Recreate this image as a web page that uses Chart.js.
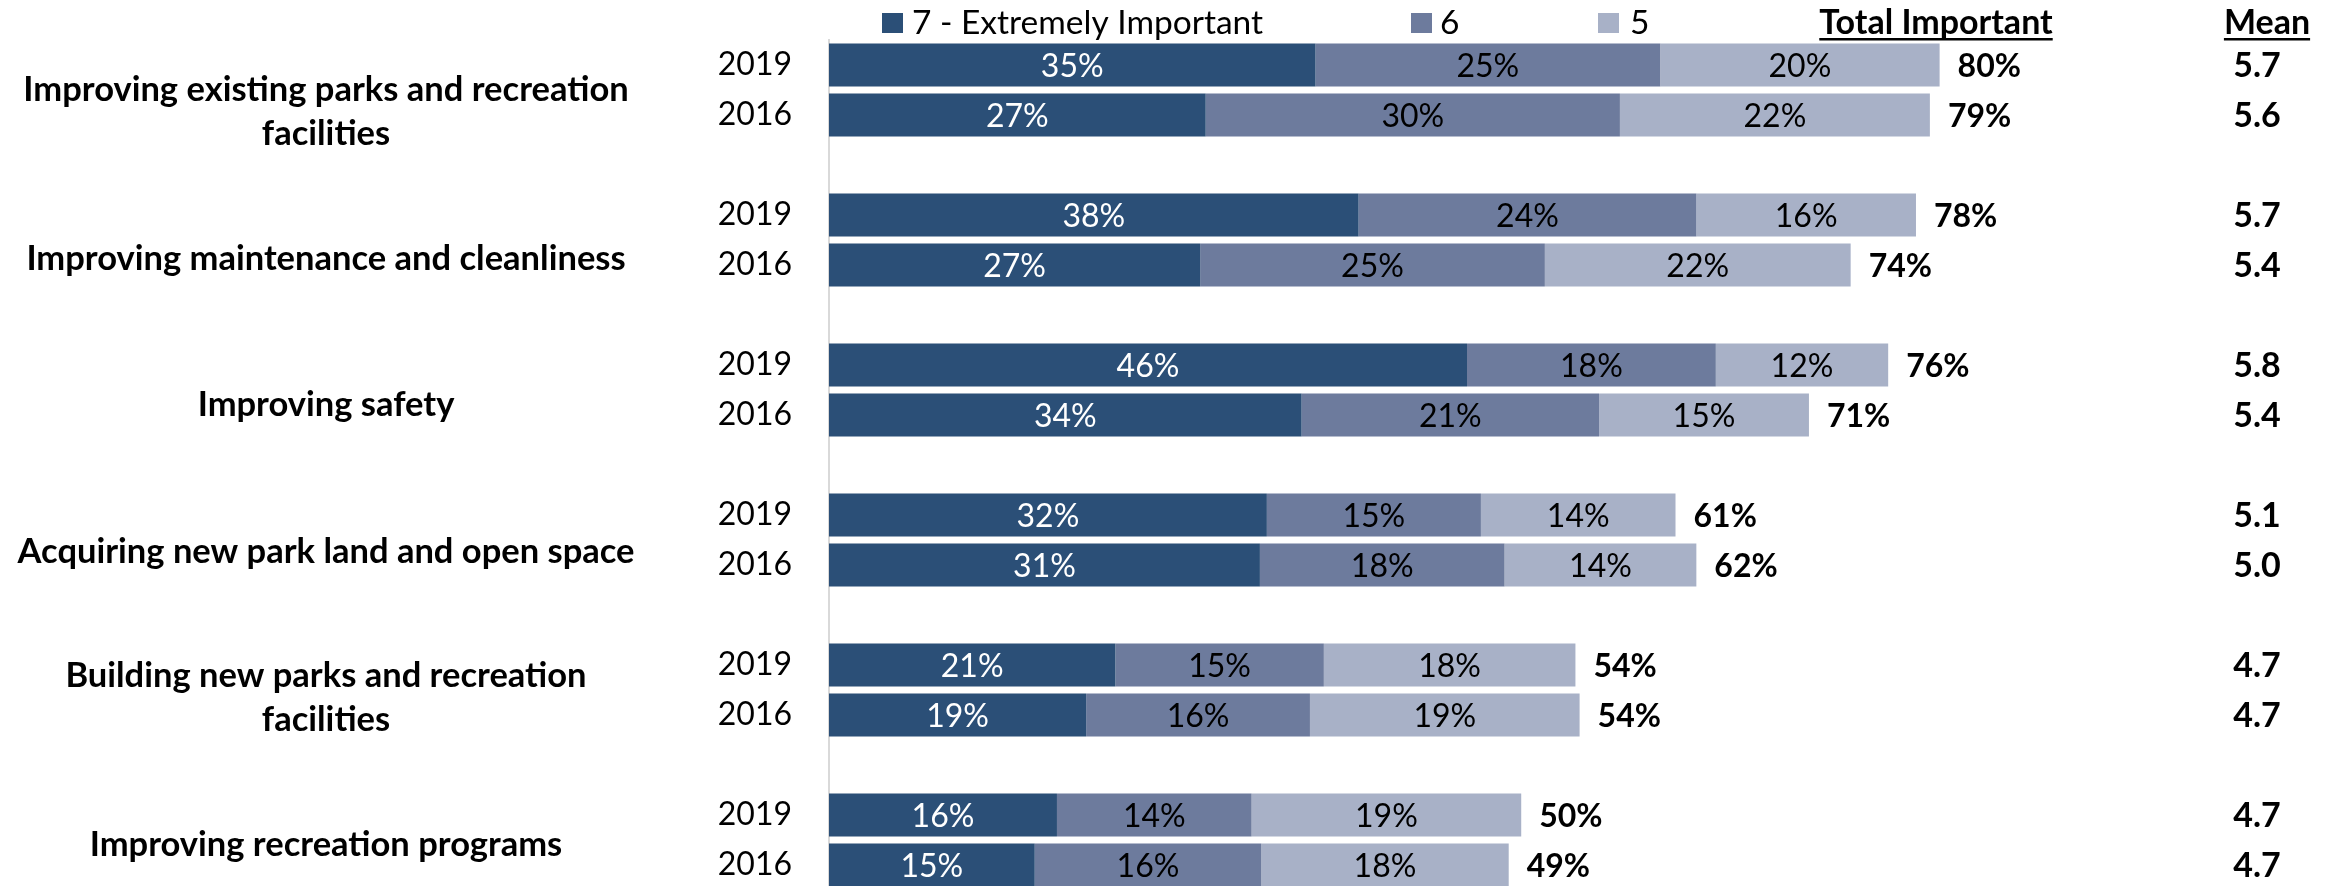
<!DOCTYPE html>
<html>
<head>
<meta charset="utf-8">
<script src="https://cdn.jsdelivr.net/npm/chart.js@4"></script>
<style>
  html, body { margin: 0; padding: 0; background: #ffffff; overflow: hidden; }
  #wrap { width: 2341px; height: 900px; position: relative; }
</style>
</head>
<body>
<div id="wrap"><canvas id="c"></canvas></div>
<script>
// ---- data ----
const groups = [
  ['Improving existing parks and recreation', 'facilities'],
  ['Improving maintenance and cleanliness'],
  ['Improving safety'],
  ['Acquiring new park land and open space'],
  ['Building new parks and recreation', 'facilities'],
  ['Improving recreation programs']
];
const years = ['2019', '2016'];
const seriesNames = ['7 - Extremely Important', '6', '5'];
const extremely2019 = [35.0, 38.1, 45.9, 31.5, 20.6, 16.4];
const extremely2016 = [27.1, 26.7, 34.0, 31.0, 18.5, 14.8];
const six2019 = [24.8, 24.3, 17.9, 15.4, 15.0, 14.0];
const six2016 = [29.8, 24.8, 21.4, 17.6, 16.1, 16.3];
const five2019 = [20.1, 15.8, 12.4, 14.0, 18.1, 19.4];
const five2016 = [22.3, 22.0, 15.1, 13.8, 19.4, 17.8];
const total2019 = [80, 78, 76, 61, 54, 50];
const total2016 = [79, 74, 71, 62, 54, 49];
const mean2019 = ['5.7', '5.7', '5.8', '5.1', '4.7', '4.7'];
const mean2016 = ['5.6', '5.4', '5.4', '5.0', '4.7', '4.7'];

// ---- styles ----
const colors = ['#2B4F77', '#6D7B9D', '#A8B1C7'];
const FONT = 'Lato, "Open Sans", sans-serif';

// build slot layout: 2019, 2016, (blank) per group
function expand(a, b) {
  const out = [];
  a.forEach((v, i) => {
    out.push(a[i], b[i]);
    if (i < a.length - 1) out.push(null);
  });
  return out;
}
const slotLabels = expand(groups.map(() => years[0]), groups.map(() => years[1])).map(v => v === null ? '' : v);
const totals = expand(total2019, total2016);
const means = expand(mean2019, mean2016);

const overlay = {
  id: 'overlay',
  afterDatasetsDraw(chart) {
    const ctx = chart.ctx;
    const ys = chart.scales.y;
    const area = chart.chartArea;
    ctx.save();
    // in-bar labels
    chart.data.datasets.forEach((ds, di) => {
      const meta = chart.getDatasetMeta(di);
      meta.data.forEach((el, j) => {
        const v = ds.data[j];
        if (v === null || v === undefined) return;
        const p = el.getProps(['x', 'y', 'base'], true);
        ctx.font = '32px ' + FONT;
        ctx.textAlign = 'center';
        ctx.textBaseline = 'alphabetic';
        ctx.fillStyle = di === 0 ? '#ffffff' : '#000000';
        ctx.fillText(Math.round(v) + '%', (p.x + p.base) / 2, p.y + 11.5);
      });
    });
    // totals and means
    const lastMeta = chart.getDatasetMeta(chart.data.datasets.length - 1);
    lastMeta.data.forEach((el, j) => {
      if (totals[j] === null) return;
      const p = el.getProps(['x', 'y'], true);
      ctx.font = 'bold 32px ' + FONT;
      ctx.fillStyle = '#000000';
      ctx.textAlign = 'left';
      ctx.fillText(totals[j] + '%', p.x + 18, p.y + 11.5);
      ctx.textAlign = 'center';
      ctx.font = 'bold 34px ' + FONT;
      ctx.fillText(means[j], area.right + 38, p.y + 12);
    });
    // group labels
    ctx.font = 'bold 34.5px ' + FONT;
    ctx.textAlign = 'center';
    ctx.fillStyle = '#000000';
    groups.forEach((lines, i) => {
      const yc = (ys.getPixelForValue(3 * i) + ys.getPixelForValue(3 * i + 1)) / 2;
      const center = yc + 22 - 3.4 * i;
      const lh = 44;
      lines.forEach((t, k) => {
        const off = (k - (lines.length - 1) / 2) * lh;
        ctx.fillText(t, 326, center + off + 11);
      });
    });
    // legend
    const leg = [
      { sx: 882, tx: 912 },
      { sx: 1411, tx: 1440 },
      { sx: 1598, tx: 1630 }
    ];
    ctx.font = '33.5px ' + FONT;
    ctx.textAlign = 'left';
    leg.forEach((l, i) => {
      ctx.fillStyle = colors[i];
      ctx.fillRect(l.sx, 13, 21, 20);
      ctx.fillStyle = '#000000';
      ctx.fillText(seriesNames[i], l.tx, 34);
    });
    // column headers
    ctx.font = 'bold 34px ' + FONT;
    ctx.textAlign = 'center';
    const heads = [
      { t: 'Total Important', cx: 1936 },
      { t: 'Mean', cx: 2267 }
    ];
    heads.forEach(h => {
      ctx.fillText(h.t, h.cx, 34);
      const w = ctx.measureText(h.t).width;
      ctx.fillRect(h.cx - w / 2, 38, w, 2.5);
    });
    ctx.restore();
  }
};

new Chart(document.getElementById('c'), {
  type: 'bar',
  data: {
    labels: slotLabels,
    datasets: [
      { label: seriesNames[0], data: expand(extremely2019, extremely2016), backgroundColor: colors[0] },
      { label: seriesNames[1], data: expand(six2019, six2016), backgroundColor: colors[1] },
      { label: seriesNames[2], data: expand(five2019, five2016), backgroundColor: colors[2] }
    ]
  },
  options: {
    indexAxis: 'y',
    responsive: true,
    maintainAspectRatio: false,
    animation: false,
    categoryPercentage: 1.0,
    barPercentage: 0.86,
    layout: { padding: { top: 40, bottom: 10, left: 0, right: 122 } },
    plugins: { legend: { display: false }, tooltip: { enabled: false } },
    scales: {
      x: { stacked: true, min: 0, max: 100, display: false },
      y: {
        stacked: true,
        afterFit(scale) {
          scale.width = 829;
          scale.paddingTop = 0;
          scale.paddingBottom = 0;
        },
        grid: { display: true, drawOnChartArea: false, drawTicks: false },
        border: { display: true, color: '#D9D9D9', width: 2 },
        ticks: { color: '#000000', padding: 37, autoSkip: false, font: { family: FONT, size: 32 } }
      }
    }
  },
  plugins: [overlay]
});
</script>
</body>
</html>
